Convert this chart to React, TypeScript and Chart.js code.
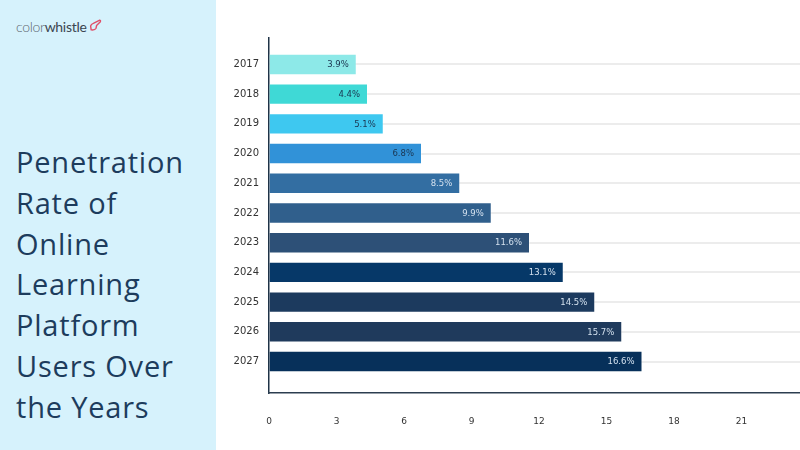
import React, { useEffect, useRef } from "react";
import { Chart, registerables } from "chart.js";

Chart.register(...registerables);

const years = ["2017", "2018", "2019", "2020", "2021", "2022", "2023", "2024", "2025", "2026", "2027"];
const penetration = [3.9, 4.4, 5.1, 6.8, 8.5, 9.9, 11.6, 13.1, 14.5, 15.7, 16.6];
const barColors = [
  "#8de9e8", "#3fd9d6", "#3ec8f0", "#3192d8", "#336ea2", "#305f8c",
  "#2d5077", "#063868", "#1c3a5e", "#1f3a5c", "#07305a",
];
const xTicks = [0, 3, 6, 9, 12, 15, 18, 21];
const titleLines = ["Penetration", "Rate of", "Online", "Learning", "Platform", "Users Over", "the Years"];

const valueLabels = {
  id: "valueLabels",
  afterDatasetsDraw(chart: any) {
    const ctx = chart.ctx;
    const meta = chart.getDatasetMeta(0);
    ctx.save();
    ctx.font = "8.5px 'DejaVu Sans'";
    ctx.textAlign = "right";
    ctx.textBaseline = "middle";
    meta.data.forEach((bar: any, i: number) => {
      ctx.fillStyle = i < 4 ? "#1b3550" : "#d3e0ee";
      ctx.fillText(penetration[i].toFixed(1) + "%", bar.x - 8, bar.y + 0.5);
    });
    ctx.restore();
  },
};

function BarChart() {
  const ref = useRef<HTMLCanvasElement | null>(null);
  useEffect(() => {
    if (!ref.current) return;
    const chart = new Chart(ref.current, {
      type: "bar",
      data: {
        datasets: [
          {
            data: penetration.map((v, i) => ({ x: v, y: i })) as any,
            backgroundColor: barColors,
            borderColor: "rgba(255,255,255,0.28)",
            borderWidth: 1,
            barPercentage: 0.72,
            categoryPercentage: 1,
          },
        ],
      },
      options: {
        indexAxis: "y",
        responsive: false,
        animation: false,
        layout: { padding: { top: 38, right: 0, left: 0, bottom: 0 } },
        plugins: { legend: { display: false }, tooltip: { enabled: false } },
        scales: {
          y: {
            type: "linear",
            reverse: true,
            offset: false,
            bounds: "data",
            min: -0.89,
            max: 11.06,
            afterBuildTicks: (axis: any) => {
              axis.ticks = years.map((_, i) => ({ value: i }));
            },
            afterFit: (axis: any) => {
              axis.width = 53;
            },
            ticks: {
              autoSkip: false,
              callback: (v: any) => years[v] ?? "",
              font: { family: "'DejaVu Sans'", size: 10 },
              color: "#333333",
              padding: 10,
            },
            grid: { color: "#ececec", lineWidth: 2, drawTicks: false, offset: false },
            border: { display: true, color: "#1f3347", width: 1.5 },
          },
          x: {
            type: "linear",
            min: 0,
            max: 23.6,
            afterBuildTicks: (axis: any) => {
              axis.ticks = xTicks.map((v) => ({ value: v }));
            },
            afterFit: (axis: any) => {
              axis.height = 57;
            },
            ticks: {
              autoSkip: false,
              font: { family: "'DejaVu Sans'", size: 9 },
              color: "#333333",
              padding: 23,
            },
            grid: { display: true, color: "rgba(0,0,0,0)", drawTicks: false },
            border: { display: true, color: "#2c3e50", width: 1.5 },
          },
        },
      } as any,
      plugins: [valueLabels],
    });
    return () => chart.destroy();
  }, []);
  return <canvas ref={ref} width={584} height={450} style={{ display: "block", width: 584, height: 450 }} />;
}

export default function App() {
  return (
    <div
      style={{
        position: "fixed",
        left: 0,
        top: 0,
        width: 800,
        height: 450,
        background: "#ffffff",
        overflow: "hidden",
      }}
    >
      <div
        style={{
          position: "absolute",
          left: 0,
          top: 0,
          width: 216,
          height: 450,
          background: "#d6f2fc",
        }}
      >
        <div
          style={{
            position: "absolute",
            left: 16,
            top: 19,
            fontFamily: "Lato, 'Open Sans', sans-serif",
            fontSize: 14,
            lineHeight: "16px",
            whiteSpace: "nowrap",
            display: "flex",
            alignItems: "center",
          }}
        >
          <span style={{ color: "#5b6670", fontWeight: 300, letterSpacing: -0.3 }}>color</span>
          <span style={{ color: "#3b4550", fontWeight: 400, letterSpacing: -0.3 }}>whistle</span>
          <svg width="13" height="13" viewBox="0 0 12 12" style={{ marginLeft: 2, marginTop: -4 }}>
            <path
              d="M2 10 L1.5 6.5 Q2 4.5 4 4 L9.5 1.2 Q11 1 10.5 2.5 L7 6 L6.5 8.5 Q5.5 10.5 2 10 Z"
              fill="none"
              stroke="#e0506a"
              strokeWidth="1.3"
              strokeLinejoin="round"
            />
          </svg>
        </div>
        <div
          style={{
            position: "absolute",
            left: 16,
            top: 142,
            fontFamily: "'Open Sans', sans-serif",
            fontSize: 29,
            lineHeight: "40.8px",
            letterSpacing: 0.8,
            color: "#1d3c5c",
            whiteSpace: "nowrap",
          }}
        >
          {titleLines.map((l, i) => (
            <div key={i}>{l}</div>
          ))}
        </div>
      </div>
      <div style={{ position: "absolute", left: 216, top: 0, width: 584, height: 450 }}>
        <BarChart />
      </div>
    </div>
  );
}
